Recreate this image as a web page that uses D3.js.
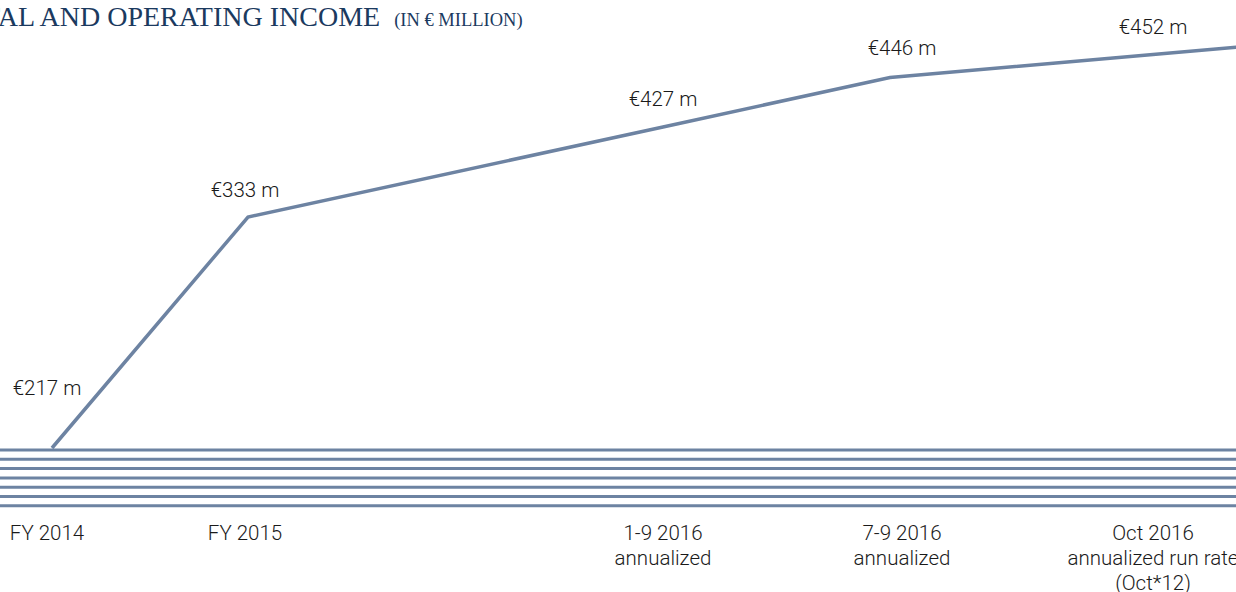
<!DOCTYPE html>
<html>
<head>
<meta charset="utf-8">
<script src="https://cdn.jsdelivr.net/npm/d3@7"></script>
<style>
  body { margin: 0; background: #fff; overflow: hidden; }
  svg { display: block; }
</style>
</head>
<body>
<svg id="chart"></svg>
<script>
// data
var periods = ["FY 2014", "FY 2015", "1-9 2016", "7-9 2016", "Oct 2016"];
var subLabels = [[], [], ["annualized"], ["annualized"], ["annualized run rate", "(Oct*12)"]];
var income = [217, 333, 427, 446, 452];
var stripeCount = 7;

var width = 1236,
    height = 592,
    lineColor = "#6d83a2";

var svg = d3.select("#chart")
  .attr("width", width)
  .attr("height", height);

// x: the slide spaces the periods unevenly
var idx = d3.range(periods.length);
var xLine = d3.scaleLinear().domain(idx).range([52, 248, 663, 890, 1153]);
var xLabel = d3.scaleLinear().domain(idx).range([47, 245, 663, 902, 1153]);

// y: the slide's line is not to scale either, so a piecewise scale
var y = d3.scaleLinear()
  .domain(income)
  .range([448, 217, 127, 77.5, 54.5]);

// title (cut off at the left edge like the slide)
var serif = "'Liberation Serif', 'DejaVu Serif', serif";
var probe = svg.append("text")
  .style("font-family", serif)
  .style("font-size", "28px")
  .text("RENT");
var cut = probe.node().getComputedTextLength();
probe.remove();

var title = svg.append("text")
  .attr("x", -cut)
  .attr("y", 26)
  .style("font-family", serif)
  .style("fill", "#1b3a5f");
title.append("tspan")
  .style("font-size", "28px")
  .text("RENTAL AND OPERATING INCOME");
title.append("tspan")
  .attr("dx", 14)
  .style("font-size", "18.5px")
  .text("(IN € MILLION)");

// stripes along the bottom
svg.append("g").selectAll("line")
  .data(d3.range(stripeCount))
  .enter().append("line")
    .attr("x1", 0)
    .attr("x2", width)
    .attr("y1", function(d) { return 450 + d * 9.3; })
    .attr("y2", function(d) { return 450 + d * 9.3; })
    .style("stroke", lineColor)
    .style("stroke-width", 3);

// line, continued past the last point to the edge
var pts = income.map(function(v, i) { return [xLine(i), y(v)]; });
var a = pts[pts.length - 2], b = pts[pts.length - 1];
var slope = (b[1] - a[1]) / (b[0] - a[0]);
pts.push([width + 20, b[1] + slope * (width + 20 - b[0])]);

svg.append("path")
  .datum(pts)
  .attr("d", d3.line())
  .style("fill", "none")
  .style("stroke", lineColor)
  .style("stroke-width", 3.5)
  .style("stroke-linejoin", "miter");

var font = "Roboto, 'Liberation Sans', sans-serif";

// value labels
svg.append("g").selectAll("text")
  .data(income)
  .enter().append("text")
    .attr("x", function(d, i) { return xLabel(i); })
    .attr("y", function(d, i) {
      var lx = xLabel(i);
      // height of the line under the label
      var ly = i === 0 ? y(d) - 32 : y(d) + (lx - xLine(i)) * (i < income.length - 1 ? (y(income[i + 1]) - y(d)) / (xLine(i + 1) - xLine(i)) : slope);
      return ly - 21;
    })
    .attr("text-anchor", "middle")
    .style("font-family", font)
    .style("font-weight", 300)
    .style("font-size", "20.5px")
    .style("fill", "#1a1a1a")
    .text(function(d) { return "€" + d + " m"; });

// period labels
var cats = svg.append("g").selectAll("text")
  .data(periods)
  .enter().append("text")
    .attr("x", function(d, i) { return xLabel(i); })
    .attr("y", 540)
    .attr("text-anchor", "middle")
    .style("font-family", font)
    .style("font-weight", 300)
    .style("font-size", "20.5px")
    .style("fill", "#1a1a1a");

cats.append("tspan").text(function(d) { return d; });
cats.each(function(d, i) {
  var t = d3.select(this);
  subLabels[i].forEach(function(s) {
    t.append("tspan")
      .attr("x", xLabel(i))
      .attr("dy", 25)
      .text(s);
  });
});
</script>
</body>
</html>
